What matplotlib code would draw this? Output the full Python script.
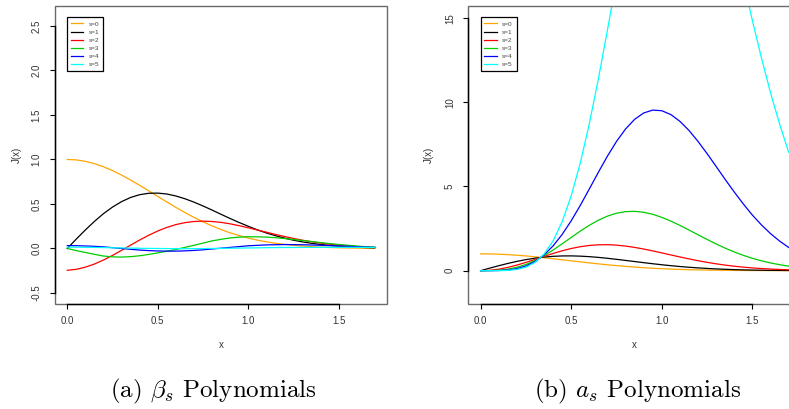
import matplotlib
matplotlib.use("Agg")
import matplotlib.pyplot as plt
from matplotlib.lines import Line2D
from matplotlib.patches import Rectangle

plt.rcParams['font.family'] = ['Liberation Sans', 'DejaVu Sans']
plt.rcParams['mathtext.fontset'] = 'cm'
plt.rcParams['axes.unicode_minus'] = False

# ---- data ----
labels = ['s=0', 's=1', 's=2', 's=3', 's=4', 's=5']
colors = ['#FFA500', '#000000', '#FF0000', '#00CD00', '#0000FF', '#00FFFF']

# both panels are sampled at x = 0.0 .. 1.7, step 0.05
x_grid = [0.00, 0.05, 0.10, 0.15, 0.20, 0.25, 0.30, 0.35, 0.40, 0.45, 0.50, 0.55,
          0.60, 0.65, 0.70, 0.75, 0.80, 0.85, 0.90, 0.95, 1.00, 1.05, 1.10, 1.15,
          1.20, 1.25, 1.30, 1.35, 1.40, 1.45, 1.50, 1.55, 1.60, 1.65, 1.70]

# (a) beta_s polynomials
beta_0 = [1.000, 0.995, 0.979, 0.953, 0.918, 0.875, 0.825, 0.769, 0.710, 0.648, 0.585, 0.523,
          0.462, 0.404, 0.350, 0.300, 0.254, 0.213, 0.176, 0.145, 0.117, 0.094, 0.075, 0.059,
          0.046, 0.035, 0.027, 0.020, 0.015, 0.011, 0.008, 0.006, 0.004, 0.003, 0.002]
beta_1 = [0.000, 0.106, 0.208, 0.304, 0.391, 0.465, 0.526, 0.573, 0.604, 0.620, 0.622, 0.612,
          0.590, 0.559, 0.521, 0.478, 0.432, 0.384, 0.337, 0.292, 0.250, 0.210, 0.175, 0.144,
          0.117, 0.093, 0.074, 0.058, 0.045, 0.034, 0.026, 0.019, 0.014, 0.010, 0.007]
beta_2 = [-0.245, -0.234, -0.210, -0.175, -0.130, -0.078, -0.021, 0.037, 0.095, 0.148, 0.196, 0.236,
          0.268, 0.290, 0.303, 0.307, 0.303, 0.293, 0.277, 0.256, 0.233, 0.208, 0.183, 0.158,
          0.135, 0.113, 0.093, 0.076, 0.061, 0.048, 0.038, 0.029, 0.022, 0.017, 0.012]
beta_3 = [0.000, -0.024, -0.045, -0.066, -0.085, -0.094, -0.097, -0.092, -0.082, -0.067, -0.050, -0.031,
          -0.012, 0.012, 0.035, 0.060, 0.085, 0.103, 0.118, 0.127, 0.132, 0.131, 0.128, 0.121,
          0.112, 0.101, 0.090, 0.078, 0.066, 0.055, 0.045, 0.036, 0.027, 0.020, 0.013]
beta_4 = [0.032, 0.031, 0.028, 0.024, 0.018, 0.009, 0.000, -0.009, -0.018, -0.024, -0.028, -0.030,
          -0.030, -0.027, -0.022, -0.015, -0.006, 0.003, 0.012, 0.021, 0.030, 0.035, 0.040, 0.042,
          0.044, 0.043, 0.042, 0.039, 0.036, 0.032, 0.028, 0.024, 0.020, 0.016, 0.013]
beta_5 = [0.015, 0.014, 0.013, 0.012, 0.010, 0.008, 0.006, 0.004, 0.002, 0.001, 0.000, -0.001,
          -0.002, -0.002, -0.002, -0.001, 0.000, 0.001, 0.003, 0.004, 0.006, 0.007, 0.009, 0.010,
          0.011, 0.011, 0.012, 0.012, 0.013, 0.013, 0.013, 0.013, 0.013, 0.012, 0.012]

# (b) a_s polynomials
a_0 = [1.000, 0.995, 0.979, 0.953, 0.918, 0.875, 0.825, 0.769, 0.710, 0.648, 0.585, 0.523,
       0.462, 0.404, 0.350, 0.300, 0.254, 0.213, 0.176, 0.145, 0.117, 0.094, 0.075, 0.059,
       0.046, 0.035, 0.027, 0.020, 0.015, 0.011, 0.008, 0.006, 0.004, 0.003, 0.002]
a_1 = [0.000, 0.149, 0.294, 0.429, 0.551, 0.656, 0.742, 0.808, 0.852, 0.875, 0.878, 0.863,
       0.832, 0.789, 0.735, 0.674, 0.609, 0.542, 0.476, 0.412, 0.352, 0.297, 0.247, 0.203,
       0.165, 0.132, 0.104, 0.082, 0.063, 0.048, 0.036, 0.027, 0.020, 0.015, 0.010]
a_2 = [0.000, 0.022, 0.088, 0.193, 0.330, 0.492, 0.668, 0.848, 1.022, 1.181, 1.317, 1.424,
       1.498, 1.538, 1.543, 1.517, 1.461, 1.382, 1.285, 1.174, 1.056, 0.934, 0.814, 0.700,
       0.592, 0.494, 0.407, 0.330, 0.265, 0.209, 0.163, 0.126, 0.096, 0.072, 0.053]
a_3 = [0.000, 0.003, 0.026, 0.087, 0.198, 0.369, 0.601, 0.890, 1.226, 1.594, 1.975, 2.349,
       2.696, 2.998, 3.241, 3.412, 3.507, 3.525, 3.469, 3.347, 3.167, 2.943, 2.688, 2.414,
       2.132, 1.854, 1.587, 1.337, 1.111, 0.910, 0.733, 0.584, 0.458, 0.355, 0.270]
a_4 = [0.000, 0.001, 0.008, 0.039, 0.119, 0.277, 0.541, 0.935, 1.472, 2.152, 2.963, 3.876,
       4.854, 5.847, 6.805, 7.677, 8.418, 8.989, 9.367, 9.538, 9.501, 9.271, 8.869, 8.328,
       7.675, 6.951, 6.187, 5.414, 4.668, 3.959, 3.299, 2.716, 2.200, 1.759, 1.379]
a_5 = [0.000, 0.000, 0.002, 0.018, 0.071, 0.208, 0.487, 0.982, 1.766, 2.905, 4.445, 6.396,
       8.736, 11.401, 14.291, 17.274, 20.203, 22.922, 25.290, 27.182, 28.504, 29.202, 29.267, 28.733,
       27.629, 26.066, 24.131, 21.928, 19.604, 17.219, 14.846, 12.628, 10.561, 8.708, 7.030]

x_ticks = [0.0, 0.5, 1.0, 1.5]
y_ticks_beta = [-0.5, 0.0, 0.5, 1.0, 1.5, 2.0, 2.5]
y_ticks_a = [0, 5, 10, 15]

captions = [r'(a) $\beta_s$ Polynomials', r'(b) $a_s$ Polynomials']


def r_style_panel(ax, x, series, yticks, ylim, ytick_fmt):
    """Draws one R-like base-graphics panel."""
    for ys, c, lab in zip(series, colors, labels):
        ax.plot(x, ys, color=c, lw=0.9, label=lab)

    ax.set_xlim(-0.068, 1.768)
    ax.set_ylim(*ylim)
    ax.set_xticks(x_ticks)
    ax.set_xticklabels([f'{t:.1f}' for t in x_ticks])
    ax.set_yticks(yticks)
    ax.set_yticklabels([ytick_fmt(t) for t in yticks])

    # grey full frame, black axis lines spanning the tick range (like R)
    for side in ['top', 'right']:
        ax.spines[side].set_visible(False)
    for side in ['bottom', 'left']:
        ax.spines[side].set_color('black')
        ax.spines[side].set_linewidth(1.0)
    ax.spines['bottom'].set_bounds(x_ticks[0], x_ticks[-1])
    ax.spines['left'].set_bounds(yticks[0], yticks[-1])
    ax.add_patch(Rectangle((0, 0), 1, 1, transform=ax.transAxes, fill=False,
                           edgecolor='#6a6a6a', lw=1.0, clip_on=False, zorder=2.4))

    ax.tick_params(direction='out', length=3.6, width=0.8, color='black',
                   labelsize=7, labelcolor='#333333')
    ax.tick_params(axis='x', pad=5)
    ax.tick_params(axis='y', pad=6, labelrotation=90)
    for t in ax.get_yticklabels():
        t.set_va('center')

    ax.set_xlabel('x', fontsize=7, color='#333333')
    ax.set_ylabel('J(x)', fontsize=7, color='#333333')
    ax.xaxis.label.set_va('center')
    ax.yaxis.label.set_va('center')
    ax.xaxis.set_label_coords(0.5, -0.138)

    handles = [Line2D([], [], color=c, lw=0.9) for c in colors]
    leg = ax.legend(handles, labels, loc='upper left', bbox_to_anchor=(0.037, 0.962),
                    borderaxespad=0, fontsize=4.6, labelspacing=0.42, handlelength=1.9,
                    handletextpad=0.9, borderpad=0.6, fancybox=False, framealpha=1)
    leg.get_frame().set_edgecolor('black')
    leg.get_frame().set_linewidth(0.9)
    for t in leg.get_texts():
        t.set_color('#444444')


fig = plt.figure(figsize=(7.89, 4.09), dpi=100)

ax1 = fig.add_axes([0.0697, 0.2567, 0.4208, 0.7286])
r_style_panel(ax1, x_grid, [beta_0, beta_1, beta_2, beta_3, beta_4, beta_5],
              y_ticks_beta, (-0.624, 2.724), lambda t: f'{t:.1f}')
ax1.yaxis.set_label_coords(-0.115, 0.5)

# right panel runs past the right edge of the picture, as in the original
ax2 = fig.add_axes([0.5935, 0.2567, 0.4217, 0.7286])
r_style_panel(ax2, x_grid, [a_0, a_1, a_2, a_3, a_4, a_5],
              y_ticks_a, (-1.98, 15.72), lambda t: f'{t:d}')
ax2.yaxis.set_label_coords(-0.117, 0.5)

fig.text(213 / 789, 1 - 397 / 409, captions[0], ha='center', va='baseline',
         fontsize=18, family='cmr10')
fig.text(638 / 789, 1 - 397 / 409, captions[1], ha='center', va='baseline',
         fontsize=18, family='cmr10')

fig.savefig('out.png', dpi=100)
